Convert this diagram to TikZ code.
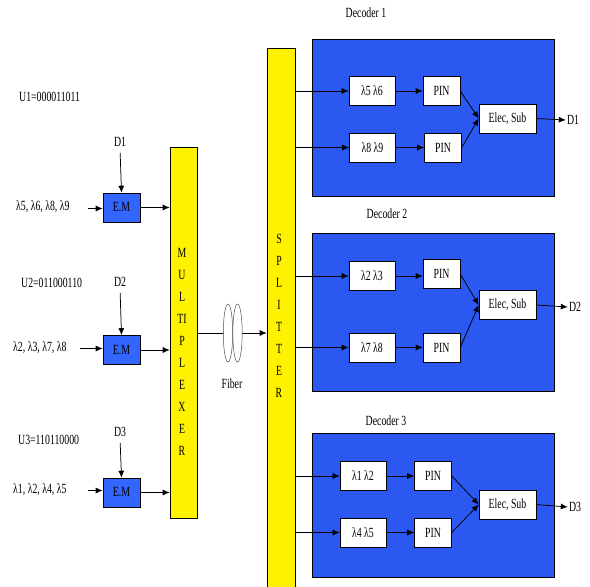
\documentclass[tikz,border=0pt]{standalone}
\usepackage{fontspec}
\setmainfont{Liberation Serif}[FakeStretch=0.7]
\usetikzlibrary{arrows.meta}
\definecolor{dblue}{RGB}{43,88,240}
\definecolor{emblue}{RGB}{51,102,255}
\begin{document}
\begin{tikzpicture}[x=1pt,y=-1pt, font=\fontsize{14}{16}\selectfont,
 every node/.style={inner sep=1pt},
 arr/.style={-{Latex[length=7pt,width=6pt]}, line width=0.75pt},
 wbox/.style={draw, fill=white, line width=0.6pt, minimum height=29pt, inner sep=0pt},
 lbox/.style={wbox, minimum width=46pt},
 pbox/.style={wbox, minimum width=37pt},
 ebox/.style={wbox, minimum width=57pt},
 embox/.style={draw, fill=emblue, line width=0.6pt, minimum width=37pt, minimum height=29pt, inner sep=0pt},
 bar/.style={draw, fill=yellow, line width=0.6pt, inner sep=0pt},
 dec/.style={draw, fill=dblue, line width=0.6pt, minimum width=242pt, inner sep=0pt},
 bartext/.style={align=center, font=\fontsize{14}{22}\selectfont}]
\useasboundingbox (0,0) rectangle (590,587);

% multiplexer and splitter
\node[bar, minimum width=27pt, minimum height=371pt] (mux) at (183.5,332.5) {};
\node[bartext] (muxt) at (182,352) {M\\U\\L\\TI\\P\\L\\E\\X\\E\\R};
\node[bar, minimum width=28pt, minimum height=560pt, anchor=north] (spl) at (281,48) {};
\node[bartext] (splt) at (279,316) {S\\P\\L\\I\\T\\T\\E\\R};

% encoders
\node[anchor=west] (u1) at (18,97) {U1=000011011};
\node[anchor=west] (u2) at (20,283) {U2=011000110};
\node[anchor=west] (u3) at (17,440) {U3=110110000};

\node[embox] (em1) at (121.5,207.5) {E.M};
\node[embox] (em2) at (121.5,350) {E.M};
\node[embox] (em3) at (121.5,492.5) {E.M};

\node (d1) at (120,142) {D1};
\node (d2) at (120,282) {D2};
\node (d3) at (120,432) {D3};
\draw[arr, shorten <=5pt] (d1.south) -- (em1.north);
\draw[arr, shorten <=5pt] (d2.south) -- (em2.north);
\draw[arr, shorten <=5pt] (d3.south) -- (em3.north);

\node[anchor=west] (l1) at (15,207) {λ5, λ6, λ8, λ9};
\node[anchor=west] (l2) at (12,348) {λ2, λ3, λ7, λ8};
\node[anchor=west] (l3) at (12,490) {λ1, λ2, λ4, λ5};
\coordinate (i1) at (88,208.5);
\coordinate (i2) at (80,348.5);
\coordinate (i3) at (88,490.5);
\draw[arr] (i1) -- (i1 -| em1.west);
\draw[arr] (i2) -- (i2 -| em2.west);
\draw[arr] (i3) -- (i3 -| em3.west);

\draw[arr] (em1.east) -- (em1.east -| mux.west);
\draw[arr] (em2.east) -- (em2.east -| mux.west);
\draw[arr] (em3.east) -- (em3.east -| mux.west);

% fiber
\coordinate (f) at (0,333);
\draw[arr] (mux.east |- f) -- (spl.west |- f);
\draw[fill=white, line width=0.5pt, draw=black!70] (228,333) ellipse [x radius=4.7, y radius=29];
\draw[fill=white, line width=0.5pt, draw=black!70] (237.5,333) ellipse [x radius=4.7, y radius=29];
\node (fib) at (232,384) {Fiber};

% decoders
\node[dec, minimum height=157pt] (dec1) at (433,117.5) {};
\node[dec, minimum height=158pt] (dec2) at (433,312) {};
\node[dec, minimum height=144pt] (dec3) at (433,505) {};
\node (dl1) at (366,13) {Decoder 1};
\node (dl2) at (387,214) {Decoder 2};
\node (dl3) at (386,421) {Decoder 3};

% decoder 1
\node[lbox] (a1) at (372,91) {λ5 λ6};
\node[pbox] (p1) at (441.5,91) {PIN};
\node[lbox] (b1) at (372.5,147.5) {λ8 λ9};
\node[pbox] (q1) at (443,147.5) {PIN};
\node[ebox] (e1) at (507.5,118.5) {Elec, Sub};
\node (o1) at (573,120) {D1};
% decoder 2
\node[lbox] (a2) at (372,276) {λ2 λ3};
\node[pbox] (p2) at (441.5,274) {PIN};
\node[lbox] (b2) at (372,347.5) {λ7 λ8};
\node[pbox] (q2) at (441.5,347.5) {PIN};
\node[ebox] (e2) at (507.5,305) {Elec, Sub};
\node (o2) at (575,307) {D2};
% decoder 3
\node[lbox] (a3) at (363,476) {λ1 λ2};
\node[pbox] (p3) at (433,476) {PIN};
\node[lbox] (b3) at (363,532.5) {λ4 λ5};
\node[pbox] (q3) at (433,532.5) {PIN};
\node[ebox] (e3) at (507.5,504.5) {Elec, Sub};
\node (o3) at (575,507) {D3};

\foreach \i in {1,2,3}{
  \draw[arr] (spl.east |- a\i) -- (a\i.west);
  \draw[arr] (spl.east |- b\i) -- (b\i.west);
  \draw[arr] (a\i.east) -- (a\i.east -| p\i.west);
  \draw[arr] (b\i.east) -- (b\i.east -| q\i.west);
  \draw[arr] (p\i.east) -- (e\i.west);
  \draw[arr] (q\i.east) -- (e\i.west);
  \draw[arr] (e\i.east) -- (o\i.west);
}
\end{tikzpicture}
\end{document}
